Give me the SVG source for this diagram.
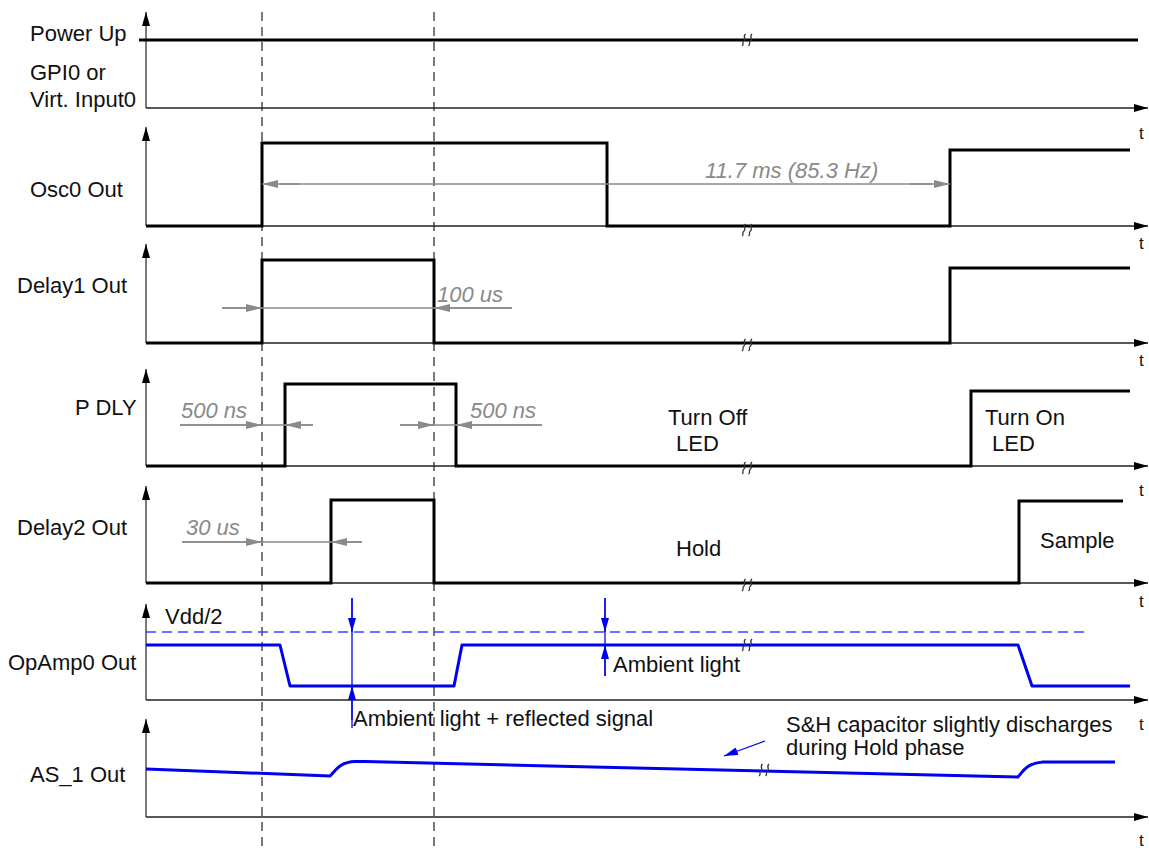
<svg xmlns="http://www.w3.org/2000/svg" width="1149" height="848" viewBox="0 0 1149 848">
<style>
.lbl{font-family:"Liberation Sans",Arial,sans-serif;font-size:22px;fill:#111}
.dim{font-family:"Liberation Sans",Arial,sans-serif;font-size:22px;font-style:italic;fill:#8a8a8a}
.tt{font-family:"Liberation Sans",Arial,sans-serif;font-size:17px;fill:#111}
.axis{stroke:#333;stroke-width:1.3;fill:none}
.yax{stroke:#333;stroke-width:1.3;fill:none;marker-end:url(#ah)}
.xax{stroke:#222;stroke-width:1.3;fill:none;marker-end:url(#ah)}
.sig{stroke:#000;stroke-width:3;fill:none;stroke-linejoin:miter}
.bsig{stroke:#0000f0;stroke-width:3;fill:none;stroke-linejoin:round}
.vdash{stroke:#333;stroke-width:1.3;stroke-dasharray:9 6;fill:none}
.bdash{stroke:#3344ff;stroke-width:1.3;stroke-dasharray:10 6;fill:none}
.dl{stroke:#8a8a8a;stroke-width:1.6;fill:none}
.da{stroke:#8a8a8a;stroke-width:1.6;fill:none;marker-end:url(#ga)}
.bl{stroke:#0000f0;stroke-width:1.3;fill:none}
.ba{stroke:#0000f0;stroke-width:1.3;fill:none;marker-end:url(#ba)}
.brk{stroke:#333;stroke-width:1.3;fill:none}
</style>
<defs>
<marker id="ah" markerUnits="userSpaceOnUse" markerWidth="14" markerHeight="8" refX="14" refY="4" orient="auto"><path d="M0,0 L14,4 L0,8 z" fill="#000"/></marker>
<marker id="ga" markerUnits="userSpaceOnUse" markerWidth="16" markerHeight="8" refX="16" refY="4" orient="auto"><path d="M0,0 L16,4 L0,8 z" fill="#8a8a8a"/></marker>
<marker id="ba" markerUnits="userSpaceOnUse" markerWidth="14" markerHeight="8" refX="14" refY="4" orient="auto"><path d="M0,0 L14,4 L0,8 z" fill="#0000f0"/></marker>
<g id="brkmark"><path class="brk" d="M-1.5,-6 C-5,-3 0,-1 -3,1 C-6,3 -2,4 -5,6"/><path class="brk" d="M5,-6 C1.5,-3 6.5,-1 3.5,1 C0.5,3 4.5,4 1.5,6"/></g>
</defs>
<rect width="1149" height="848" fill="#fff"/>

<!-- dashed reference lines -->
<g id="refs">
<line class="vdash" x1="262" y1="12" x2="262" y2="848"/>
<line class="vdash" x1="434" y1="12" x2="434" y2="848"/>
</g>

<g id="row-powerup">
<line class="yax" x1="146" y1="108" x2="146" y2="12"/>
<line class="xax" x1="146" y1="108" x2="1148" y2="108"/>
<text class="tt" x="1139" y="139">t</text>
<text class="lbl" x="30" y="41">Power Up</text>
<text class="lbl" x="30" y="80">GPI0 or</text>
<text class="lbl" x="30" y="107">Virt. Input0</text>
<line class="sig" x1="139" y1="40" x2="1138" y2="40"/>
<use href="#brkmark" x="747" y="40"/>
</g>

<g id="row-osc0">
<line class="yax" x1="146" y1="226" x2="146" y2="127"/>
<line class="xax" x1="146" y1="226" x2="1148" y2="226"/>
<text class="tt" x="1139" y="249">t</text>
<text class="lbl" x="30" y="197">Osc0 Out</text>
<path class="sig" d="M146,226 H262 V143 H607 V226 H950 V150 H1130"/>
<use href="#brkmark" x="747" y="230"/>
<text class="dim" x="705" y="178">11.7 ms (85.3 Hz)</text>
</g>

<g id="row-delay1">
<line class="yax" x1="146" y1="343" x2="146" y2="244"/>
<line class="xax" x1="146" y1="343" x2="1148" y2="343"/>
<text class="tt" x="1139" y="366">t</text>
<text class="lbl" x="17" y="293">Delay1 Out</text>
<path class="sig" d="M146,343 H262 V260 H434 V343 H950 V268 H1130"/>
<use href="#brkmark" x="747" y="345"/>
<text class="dim" x="437" y="302">100 us</text>
</g>

<g id="row-pdly">
<line class="yax" x1="146" y1="466" x2="146" y2="369"/>
<line class="xax" x1="146" y1="466" x2="1148" y2="466"/>
<text class="tt" x="1139" y="496">t</text>
<text class="lbl" x="75" y="415">P DLY</text>
<path class="sig" d="M146,466 H285 V384 H456 V466 H971 V391 H1130"/>
<use href="#brkmark" x="747" y="468"/>
<text class="dim" x="181" y="418">500 ns</text>
<text class="dim" x="470" y="418">500 ns</text>
<text class="lbl" x="668" y="425">Turn Off</text>
<text class="lbl" x="676" y="451">LED</text>
<text class="lbl" x="985" y="425">Turn On</text>
<text class="lbl" x="992" y="451">LED</text>
</g>

<g id="row-delay2">
<line class="yax" x1="146" y1="583" x2="146" y2="486"/>
<line class="xax" x1="146" y1="583" x2="1148" y2="583"/>
<text class="tt" x="1139" y="607">t</text>
<text class="lbl" x="17" y="535">Delay2 Out</text>
<path class="sig" d="M146,583 H331 V500 H434 V583 H1019 V501 H1123"/>
<use href="#brkmark" x="747" y="585"/>
<text class="dim" x="186" y="535">30 us</text>
<text class="lbl" x="676" y="556">Hold</text>
<text class="lbl" x="1040" y="548">Sample</text>
</g>

<g id="row-opamp0">
<line class="yax" x1="146" y1="700" x2="146" y2="604"/>
<line class="xax" x1="146" y1="700" x2="1148" y2="700"/>
<text class="tt" x="1139" y="730">t</text>
<text class="lbl" x="8" y="670">OpAmp0 Out</text>
<text class="lbl" x="165" y="624">Vdd/2</text>
<line class="bdash" x1="146" y1="632" x2="1088" y2="632"/>
<path class="bsig" d="M146,645 H280 L290,686 H454 L462,645 H1018 L1032,686 H1130"/>
<use href="#brkmark" x="747" y="645"/>
<text class="lbl" x="353" y="726">Ambient light + reflected signal</text>
<text class="lbl" x="613" y="672">Ambient light</text>
</g>

<g id="row-as1">
<line class="yax" x1="146" y1="817" x2="146" y2="719"/>
<line class="xax" x1="146" y1="817" x2="1148" y2="817"/>
<text class="tt" x="1139" y="846">t</text>
<text class="lbl" x="30" y="782">AS_1 Out</text>
<path class="bsig" d="M146,769 L330,776 C336,770 340,762 355,761.5 L365,761.5 L1018,777 C1024,770 1028,763 1043,762 L1115,762"/>
<use href="#brkmark" x="764" y="770"/>
<text class="lbl" x="786" y="732">S&amp;H capacitor slightly discharges</text>
<text class="lbl" x="786" y="755">during Hold phase</text>
</g>

<g id="connectors">
<!-- 11.7 ms -->
<line class="dl" x1="280" y1="184" x2="932" y2="184"/>
<line class="da" x1="300" y1="184" x2="262" y2="184"/>
<line class="da" x1="910" y1="184" x2="950" y2="184"/>
<!-- 100 us -->
<line class="dl" x1="222" y1="308" x2="512" y2="308"/>
<line class="da" x1="222" y1="308" x2="262" y2="308"/>
<line class="da" x1="512" y1="308" x2="434" y2="308"/>
<!-- 500 ns left -->
<line class="dl" x1="180" y1="425" x2="313" y2="425"/>
<line class="da" x1="180" y1="425" x2="262" y2="425"/>
<line class="da" x1="313" y1="425" x2="285" y2="425"/>
<!-- 500 ns right -->
<line class="dl" x1="400" y1="425" x2="542" y2="425"/>
<line class="da" x1="400" y1="425" x2="434" y2="425"/>
<line class="da" x1="542" y1="425" x2="456" y2="425"/>
<!-- 30 us -->
<line class="dl" x1="182" y1="542" x2="362" y2="542"/>
<line class="da" x1="182" y1="542" x2="262" y2="542"/>
<line class="da" x1="362" y1="542" x2="331" y2="542"/>
<!-- ambient light + reflected -->
<line class="bl" x1="352" y1="598" x2="352" y2="728"/>
<line class="ba" x1="352" y1="598" x2="352" y2="632"/>
<line class="ba" x1="352" y1="720" x2="352" y2="686"/>
<!-- ambient light -->
<line class="bl" x1="605" y1="598" x2="605" y2="676"/>
<line class="ba" x1="605" y1="598" x2="605" y2="632"/>
<line class="ba" x1="605" y1="676" x2="605" y2="645"/>
<!-- S&H pointer -->
<line class="ba" x1="765" y1="741" x2="724" y2="756"/>
</g>
</svg>
